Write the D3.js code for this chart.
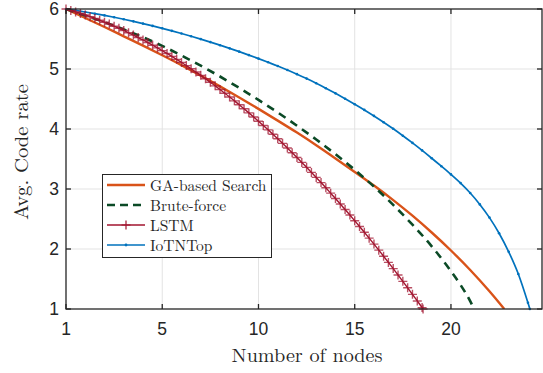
<!DOCTYPE html>
<html>
<head>
<meta charset="utf-8">
<script src="https://cdn.jsdelivr.net/npm/d3@7"></script>
<style>
  html, body { margin: 0; padding: 0; background: #fff; }
  svg { display: block; }
</style>
</head>
<body>
<svg id="chart" width="543" height="373"></svg>
<script>
// Axis ticks: positions on the node axis and the labels printed under them
const xTickPos = [0, 5, 10, 15, 20];
const xTickLabels = ["1", "5", "10", "15", "20"];
const yTicks = [1, 2, 3, 4, 5, 6];

// GA-based Search
const gaX = [0,1,2,3,4,5,6,7,8,9,10,11,12,13,14,15,16,17,18,19,20,21,22,22.77];
const gaY = [6.00,5.85,5.70,5.545,5.39,5.23,5.065,4.89,4.71,4.525,4.335,4.14,3.94,3.73,3.51,3.285,3.057,2.815,2.555,2.275,1.975,1.65,1.295,1.00];

// Brute-force
const bfX = [0,1,2,3,4,5,6,7,8,9,10,11,12,13,14,15,16,17,18,19,20,20.5,21,21.2];
const bfY = [6.00,5.89,5.78,5.66,5.53,5.385,5.225,5.055,4.875,4.685,4.485,4.275,4.055,3.825,3.58,3.32,3.04,2.735,2.405,2.045,1.63,1.40,1.13,1.00];

// LSTM (sampled every quarter node)
const lstmX = [0,0.25,0.5,0.75,1,1.25,1.5,1.75,2,2.25,2.5,2.75,3,3.25,3.5,3.75,4,4.25,4.5,4.75,
  5,5.25,5.5,5.75,6,6.25,6.5,6.75,7,7.25,7.5,7.75,8,8.25,8.5,8.75,9,9.25,9.5,9.75,
  10,10.25,10.5,10.75,11,11.25,11.5,11.75,12,12.25,12.5,12.75,13,13.25,13.5,13.75,14,14.25,14.5,14.75,
  15,15.25,15.5,15.75,16,16.25,16.5,16.75,17,17.25,17.5,17.75,18,18.25,18.5,18.55];
const lstmY = [6.000,5.977,5.952,5.927,5.900,5.872,5.843,5.812,5.780,5.748,5.713,5.678,5.642,5.604,5.565,5.525,5.484,5.441,5.397,5.352,
  5.306,5.259,5.210,5.161,5.110,5.057,5.004,4.949,4.894,4.837,4.778,4.719,4.658,4.597,4.534,4.469,4.404,4.337,4.269,4.200,
  4.130,4.059,3.986,3.912,3.837,3.761,3.683,3.604,3.524,3.443,3.361,3.277,3.193,3.107,3.020,2.931,2.842,2.751,2.659,2.566,
  2.471,2.376,2.279,2.181,2.082,1.981,1.880,1.777,1.673,1.567,1.461,1.353,1.244,1.134,1.023,1.000];

// IoTNTop (sampled every half node)
const iotX = [0,0.5,1,1.5,2,2.5,3,3.5,4,4.5,5,5.5,6,6.5,7,7.5,8,8.5,9,9.5,
  10,10.5,11,11.5,12,12.5,13,13.5,14,14.5,15,15.5,16,16.5,17,17.5,18,18.5,19,19.5,
  20,20.5,21,21.5,22,22.5,23,23.5,24,24.1];
const iotY = [6.000,5.976,5.950,5.922,5.893,5.862,5.829,5.794,5.757,5.718,5.678,5.636,5.592,5.546,5.498,5.448,5.397,5.344,5.289,5.232,
  5.173,5.112,5.050,4.984,4.914,4.840,4.762,4.680,4.594,4.505,4.413,4.318,4.218,4.113,4.003,3.888,3.768,3.643,3.513,3.380,
  3.243,3.098,2.933,2.743,2.523,2.263,1.953,1.583,1.103,1.000];

const seriesNames = ["GA-based Search", "Brute-force", "LSTM", "IoTNTop"];

const COL_GA = "#D95319", COL_BF = "#0b4a26", COL_LSTM = "#A2142F", COL_IOT = "#0072BD";
const AXIS_COL = "#262626", GRID_COL = "#e3e3e3";
const SANS = "'Liberation Sans', Arimo, Helvetica, Arial, sans-serif";
const SERIF = "'Latin Modern Roman', 'CMU Serif', 'Liberation Serif', 'DejaVu Serif', serif";

const svg = d3.select("#chart");
const L = 66, R = 542, T = 9, B = 309;

const x = d3.scaleLinear().domain([0, 24.73]).range([L, R]);
const y = d3.scaleLinear().domain([1, 6]).range([B, T]);

// grid
const grid = svg.append("g");
grid.selectAll(".gx").data(xTickPos.slice(1)).enter().append("line")
  .attr("x1", d => x(d)).attr("x2", d => x(d)).attr("y1", T).attr("y2", B)
  .attr("stroke", GRID_COL).attr("stroke-width", 1);
grid.selectAll(".gy").data(yTicks.slice(1, -1)).enter().append("line")
  .attr("y1", d => y(d)).attr("y2", d => y(d)).attr("x1", L).attr("x2", R)
  .attr("stroke", GRID_COL).attr("stroke-width", 1);

// clip region for the lines
svg.append("clipPath").attr("id", "plotclip").append("rect")
  .attr("x", L - 4).attr("y", T - 4).attr("width", R - L + 4).attr("height", B - T + 4);

const plot = svg.append("g");

function linePath(xs, ys) {
  return d3.line().x(d => x(d[0])).y(d => y(d[1])).curve(d3.curveMonotoneX)(d3.zip(xs, ys));
}

// IoTNTop line with point markers
plot.append("path").attr("d", linePath(iotX, iotY))
  .attr("fill", "none").attr("stroke", COL_IOT).attr("stroke-width", 1.7)
  .attr("clip-path", "url(#plotclip)");
plot.selectAll(".iotdot").data(d3.zip(iotX, iotY)).enter().append("circle")
  .attr("cx", d => x(d[0])).attr("cy", d => y(d[1])).attr("r", 1.3)
  .attr("fill", COL_IOT);

// GA-based Search
plot.append("path").attr("d", linePath(gaX, gaY))
  .attr("fill", "none").attr("stroke", COL_GA).attr("stroke-width", 2.4)
  .attr("clip-path", "url(#plotclip)");

// Brute-force (dashed)
plot.append("path").attr("d", linePath(bfX, bfY))
  .attr("fill", "none").attr("stroke", COL_BF).attr("stroke-width", 2.6)
  .attr("stroke-dasharray", "8,6")
  .attr("clip-path", "url(#plotclip)");

// LSTM line with plus markers
plot.append("path").attr("d", linePath(lstmX, lstmY))
  .attr("fill", "none").attr("stroke", COL_LSTM).attr("stroke-width", 1.4)
  .attr("clip-path", "url(#plotclip)");
const plusSize = 4.5;
plot.selectAll(".lstmplus").data(d3.zip(lstmX, lstmY)).enter().append("path")
  .attr("d", d => {
    const cx = x(d[0]), cy = y(d[1]);
    return `M${cx - plusSize},${cy}H${cx + plusSize}M${cx},${cy - plusSize}V${cy + plusSize}`;
  })
  .attr("stroke", COL_LSTM).attr("stroke-width", 1.4).attr("stroke-opacity", 0.75).attr("fill", "none");

// axes box
const axes = svg.append("g");
axes.append("rect").attr("x", L).attr("y", T).attr("width", R - L).attr("height", B - T)
  .attr("fill", "none").attr("stroke", AXIS_COL).attr("stroke-width", 1.3);

// ticks (inward on all four sides)
const tl = 5;
xTickPos.forEach(v => {
  axes.append("line").attr("x1", x(v)).attr("x2", x(v)).attr("y1", B).attr("y2", B - tl)
    .attr("stroke", AXIS_COL).attr("stroke-width", 1.3);
  axes.append("line").attr("x1", x(v)).attr("x2", x(v)).attr("y1", T).attr("y2", T + tl)
    .attr("stroke", AXIS_COL).attr("stroke-width", 1.3);
});
yTicks.forEach(v => {
  axes.append("line").attr("x1", L).attr("x2", L + tl).attr("y1", y(v)).attr("y2", y(v))
    .attr("stroke", AXIS_COL).attr("stroke-width", 1.3);
  axes.append("line").attr("x1", R).attr("x2", R - tl).attr("y1", y(v)).attr("y2", y(v))
    .attr("stroke", AXIS_COL).attr("stroke-width", 1.3);
});

// tick labels
axes.selectAll(".xl").data(xTickPos).enter().append("text")
  .attr("x", d => x(d)).attr("y", 335)
  .attr("text-anchor", "middle").attr("font-family", SANS).attr("font-size", 17.5)
  .attr("fill", AXIS_COL).text((d, i) => xTickLabels[i]);
axes.selectAll(".yl").data(yTicks).enter().append("text")
  .attr("x", 59).attr("y", d => y(d) + 6.3)
  .attr("text-anchor", "end").attr("font-family", SANS).attr("font-size", 17.5)
  .attr("fill", AXIS_COL).text(d => d);

// axis titles
svg.append("text").attr("x", 307).attr("y", 362).attr("text-anchor", "middle")
  .attr("font-family", SERIF).attr("font-size", 19).attr("fill", AXIS_COL)
  .attr("textLength", 151).attr("lengthAdjust", "spacingAndGlyphs")
  .text("Number of nodes");
svg.append("text").attr("transform", "translate(28,152) rotate(-90)")
  .attr("text-anchor", "middle")
  .attr("font-family", SERIF).attr("font-size", 19).attr("fill", AXIS_COL)
  .attr("textLength", 136).attr("lengthAdjust", "spacingAndGlyphs")
  .text("Avg. Code rate");

// legend
const lg = svg.append("g");
lg.append("rect").attr("x", 102.5).attr("y", 174.5).attr("width", 169).attr("height", 83)
  .attr("fill", "#fff").attr("stroke", AXIS_COL).attr("stroke-width", 1);
const legY = [185, 205, 225, 245];
const legStyles = [
  { c: COL_GA, w: 2.4, dash: null, mark: null },
  { c: COL_BF, w: 2.6, dash: "8,5", mark: null },
  { c: COL_LSTM, w: 1.4, dash: null, mark: "plus" },
  { c: COL_IOT, w: 1.7, dash: null, mark: "dot" }
];
seriesNames.forEach((name, i) => {
  const s = legStyles[i], ly = legY[i];
  const ln = lg.append("line").attr("x1", 107).attr("x2", 145).attr("y1", ly).attr("y2", ly)
    .attr("stroke", s.c).attr("stroke-width", s.w);
  if (s.dash) ln.attr("stroke-dasharray", s.dash);
  if (s.mark === "plus") {
    lg.append("path").attr("d", `M${126 - plusSize},${ly}H${126 + plusSize}M126,${ly - plusSize}V${ly + plusSize}`)
      .attr("stroke", s.c).attr("stroke-width", 1.2);
  } else if (s.mark === "dot") {
    lg.append("circle").attr("cx", 126).attr("cy", ly).attr("r", 1.4).attr("fill", s.c);
  }
  lg.append("text").attr("x", 150).attr("y", ly + 5.5)
    .attr("font-family", SERIF).attr("font-size", 15.5).attr("fill", AXIS_COL)
    .text(name);
});
</script>
</body>
</html>
